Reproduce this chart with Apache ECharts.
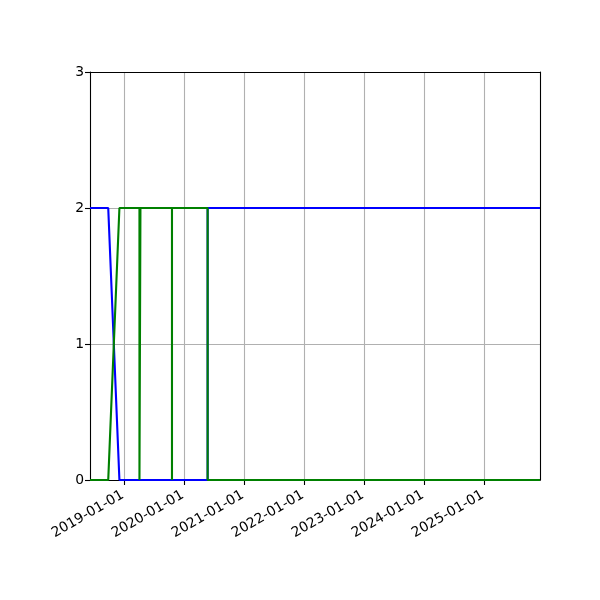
<!DOCTYPE html>
<html><head><meta charset="utf-8">
<script src="https://cdn.jsdelivr.net/npm/echarts@6/dist/echarts.min.js"></script>
<style>html,body{margin:0;padding:0;background:#fff}#c{width:600px;height:600px}</style>
</head><body><div id="c"></div>
<script>
const blueDates = ['2018-06-05','2018-09-24','2018-12-01','2020-05-21','2020-05-21','2025-12-04'];
const blueValues = [2, 2, 0, 0, 2, 2];
const greenDates = ['2018-06-05','2018-09-24','2018-12-01','2019-04-02','2019-04-02','2019-04-08','2019-04-08','2019-10-17','2019-10-17','2019-10-17','2020-05-21','2020-05-21','2025-12-04'];
const greenValues = [0, 0, 2, 2, 0, 0, 2, 2, 0, 2, 2, 0, 0];
const xTickLabels = ['2019-01-01','2020-01-01','2021-01-01','2022-01-01','2023-01-01','2024-01-01','2025-01-01'];
const yTicks = [0, 1, 2, 3];
const xStart = '2018-06-05', xEnd = '2025-12-04';

function ts(s){const p=s.split('-').map(Number);return Date.UTC(p[0],p[1]-1,p[2]);}
function pad(n){return n<10?'0'+n:''+n;}
function fmt(v){const d=new Date(v);return d.getUTCFullYear()+'-'+pad(d.getUTCMonth()+1)+'-'+pad(d.getUTCDate());}
const xTickVals = xTickLabels.map(ts);
function spine(){return {show:true,onZero:false,lineStyle:{color:'#000',width:1.1}};}
const chart = echarts.init(document.getElementById('c'), null, {renderer:'canvas'});
chart.setOption({
  animation:false,
  grid:{left:90,right:60,top:72,bottom:120,show:false},
  xAxis:[{type:'value',min:ts(xStart),max:ts(xEnd),position:'bottom',
    axisLine:spine(),
    axisTick:{show:true,length:5,lineStyle:{color:'#000',width:1.1},customValues:xTickVals},
    axisLabel:{customValues:xTickVals,formatter:fmt,rotate:30,fontSize:13.9,color:'#000',fontFamily:'DejaVu Sans',margin:13,padding:[0,2,0,0]},
    splitLine:{show:true,lineStyle:{color:'#b0b0b0',width:1.1}}},
    {type:'value',min:ts(xStart),max:ts(xEnd),position:'top',
    axisLine:spine(),axisTick:{show:false},axisLabel:{show:false},splitLine:{show:false}}],
  yAxis:[{type:'value',min:yTicks[0],max:yTicks[yTicks.length-1],interval:1,position:'left',
    axisLine:spine(),
    axisTick:{show:true,length:5,lineStyle:{color:'#000',width:1.1}},
    axisLabel:{fontSize:13.9,color:'#000',fontFamily:'DejaVu Sans',margin:6},
    splitLine:{show:true,lineStyle:{color:'#b0b0b0',width:1.1}}},
    {type:'value',min:yTicks[0],max:yTicks[yTicks.length-1],interval:1,position:'right',
    axisLine:spine(),axisTick:{show:false},axisLabel:{show:false},splitLine:{show:false}}],
  series:[
    {type:'line',xAxisIndex:0,yAxisIndex:0,data:blueDates.map((d,i)=>[ts(d),blueValues[i]]),showSymbol:false,symbol:'none',clip:false,z:3,
     lineStyle:{color:'#0000ff',width:2.1},itemStyle:{color:'#0000ff'}},
    {type:'line',xAxisIndex:0,yAxisIndex:0,data:greenDates.map((d,i)=>[ts(d),greenValues[i]]),showSymbol:false,symbol:'none',clip:false,z:3,
     lineStyle:{color:'#008000',width:2.1},itemStyle:{color:'#008000'}}
  ]
});
</script></body></html>
